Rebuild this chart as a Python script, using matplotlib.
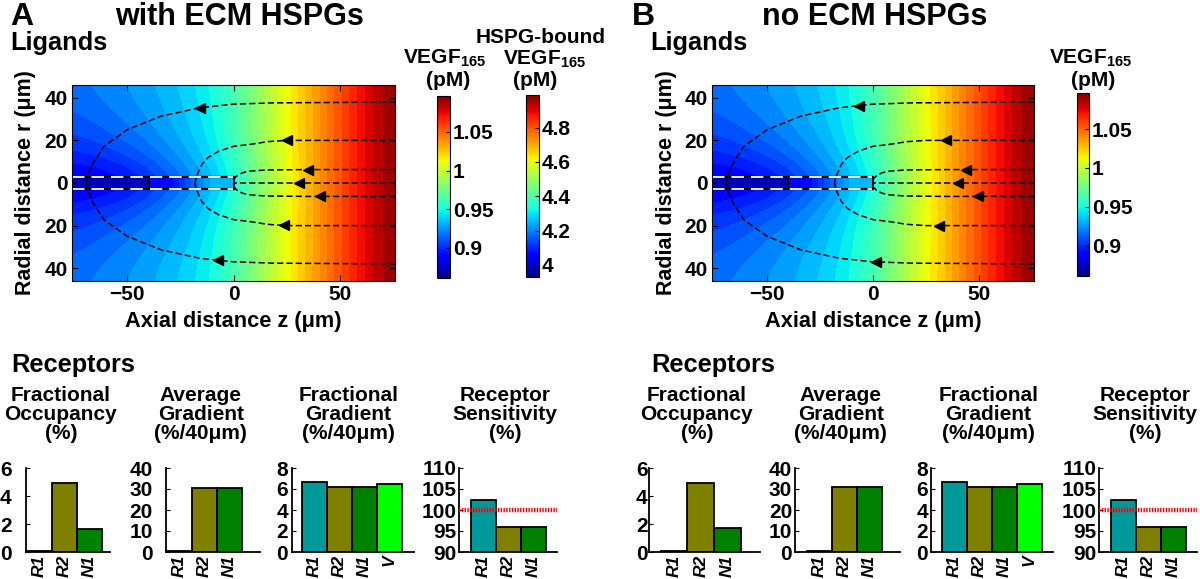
import numpy as np
import matplotlib.pyplot as plt
from matplotlib.cm import ScalarMappable
from matplotlib.colors import Normalize
from matplotlib.transforms import blended_transform_factory

plt.rcParams['font.family'] = ['Liberation Sans', 'DejaVu Sans']
plt.rcParams['font.weight'] = 'bold'
plt.rcParams['mathtext.fontset'] = 'custom'
plt.rcParams['mathtext.rm'] = 'Liberation Sans:bold'
plt.rcParams['mathtext.bf'] = 'Liberation Sans:bold'
plt.rcParams['lines.scale_dashes'] = False

# ---- ligand field, VEGF165 (pM) (rows = |r|) ----
z_nodes = [-76, -60.8, -45.6, -30.4, -15.2, 0, 15.2, 30.4, 45.6, 60.8, 76]
r_nodes = [0, 11.5, 23, 34.5, 46]
vegf_with = [
    [0.885, 0.887, 0.894, 0.908, 0.927, 0.948, 0.986, 1.019, 1.046, 1.072, 1.094],
    [0.899, 0.903, 0.910, 0.922, 0.936, 0.956, 0.991, 1.020, 1.046, 1.072, 1.094],
    [0.908, 0.913, 0.920, 0.929, 0.941, 0.960, 0.992, 1.020, 1.046, 1.072, 1.094],
    [0.914, 0.919, 0.925, 0.933, 0.943, 0.961, 0.992, 1.020, 1.046, 1.072, 1.094],
    [0.918, 0.922, 0.928, 0.935, 0.945, 0.962, 0.993, 1.020, 1.046, 1.072, 1.094],
]
vegf_without = [
    [0.885, 0.887, 0.894, 0.908, 0.927, 0.948, 0.986, 1.019, 1.046, 1.072, 1.094],
    [0.899, 0.903, 0.910, 0.922, 0.936, 0.956, 0.991, 1.020, 1.046, 1.072, 1.094],
    [0.908, 0.913, 0.920, 0.929, 0.941, 0.960, 0.992, 1.020, 1.046, 1.072, 1.094],
    [0.914, 0.919, 0.925, 0.933, 0.943, 0.961, 0.992, 1.020, 1.046, 1.072, 1.094],
    [0.918, 0.922, 0.928, 0.935, 0.945, 0.962, 0.993, 1.020, 1.046, 1.072, 1.094],
]
# sprout interior: stalk cell (uniform) and tip cell (base -> tip)
stalk_with, tip_with = 0.873, [0.894, 0.934]
stalk_without, tip_without = 0.873, [0.894, 0.934]
sprout_radius = 3
sprout_start = -76
cell_edges = [-40, 0]

vegf_range = (0.861, 1.0965)
hspg_range = (3.93, 4.99)

# ---- streamlines (upper half, mirrored below) ----
paths = {
    'outer': ([76, 18, 0, -16, -34, -50, -61, -66, -68.3, -69.3],
              [38, 37.6, 37, 35.3, 31.4, 25, 17.2, 9.4, 4.5, 0]),
    'middle': ([76, 25, 16, 7, 0, -7, -12, -15, -17.5, -18.2],
               [20, 20, 19.4, 18, 17.2, 14.9, 12, 8.6, 3, 0]),
    'inner': ([76, 35, 15, 7, 4, 1.5, 0.5],
              [6.3, 6.3, 6.1, 5.5, 4.7, 3.3, 2.2]),
    'axis': ([76, 0.5], [0, 0]),
}
arrows_with = {('outer', 1): -16, ('middle', 1): 25, ('inner', 1): 35, ('axis', 1): 31,
               ('inner', -1): 40.6, ('middle', -1): 23.6, ('outer', -1): -7.2}
arrows_without = {('outer', 1): -6.5, ('middle', 1): 34.6, ('inner', 1): 44, ('axis', 1): 40,
                  ('inner', -1): 49.4, ('middle', -1): 31.3, ('outer', -1): 1.5}

# ---- receptor bar charts ----
occ_labels = ['R1', 'R2', 'N1']
grad_labels = ['R1', 'R2', 'N1', 'V']
occupancy_with = [0.05, 4.9, 1.65]
avg_gradient_with = [0.4, 30.6, 30.6]
frac_gradient_with = [6.62, 6.2, 6.2, 6.47]
sensitivity_with = [102.5, 96.0, 96.0]
occupancy_without = [0.05, 4.95, 1.68]
avg_gradient_without = [0.4, 30.9, 30.9]
frac_gradient_without = [6.63, 6.22, 6.22, 6.48]
sensitivity_without = [102.5, 96.0, 96.0]
bar_colors = {'R1': '#009999', 'R2': '#808000', 'N1': '#008000', 'V': '#00ff00'}

W, H = 1200, 579
fig = plt.figure(figsize=(12, 5.79), dpi=100)
field_cmap = plt.get_cmap('jet', 40)


def px_axes(x0, y0, x1, y1):
    return fig.add_axes([x0 / W, 1 - y1 / H, (x1 - x0) / W, (y1 - y0) / H])


def ftext(x, y, s, **kw):
    return fig.text(x / W, 1 - y / H, s, **kw)


def draw_field(box, vals, stalk, tip, arrows):
    ax = px_axes(*box)
    norm = Normalize(*vegf_range)
    rows = np.array(vals)
    full = np.vstack([rows[::-1], rows[1:]])
    dz = z_nodes[1] - z_nodes[0]
    dr = r_nodes[1] - r_nodes[0]
    ax.imshow(full, cmap=field_cmap, norm=norm, origin='lower', aspect='auto',
              extent=[z_nodes[0] - dz / 2, z_nodes[-1] + dz / 2,
                      -r_nodes[-1] - dr / 2, r_nodes[-1] + dr / 2],
              interpolation='bicubic', interpolation_stage='data')
    ax.imshow([[stalk]], cmap=field_cmap, norm=norm, aspect='auto',
              extent=[sprout_start, cell_edges[0], -sprout_radius, sprout_radius])
    ax.imshow([tip], cmap=field_cmap, norm=norm, aspect='auto', origin='lower',
              extent=[cell_edges[0], cell_edges[1], -sprout_radius, sprout_radius],
              interpolation='bilinear', interpolation_stage='data')
    for s in (1, -1):
        ax.plot([sprout_start, cell_edges[1]], [s * sprout_radius] * 2, color='black', lw=1.6)
        ax.plot([sprout_start, cell_edges[1]], [s * sprout_radius] * 2, color='white',
                lw=1.3, dashes=(9, 5))
    for ze in cell_edges:
        ax.plot([ze, ze], [-sprout_radius, sprout_radius], color='black', lw=1.5)

    for (name, s), za in arrows.items():
        pz, pr = paths[name]
        ax.plot(pz, s * np.array(pr), color='black', lw=1.1, dashes=(4.5, 2.2))
        ra = s * np.interp(za, pz[::-1], pr[::-1])
        ax.plot([za], [ra], marker='<', color='black', ms=7)

    ax.set_xlim(-76, 76)
    ax.set_ylim(-46, 46)
    ax.set_xticks([-50, 0, 50])
    ax.set_yticks([-40, -20, 0, 20, 40])
    ax.set_yticklabels(['40', '20', '0', '20', '40'])
    ax.tick_params(direction='in', length=4, labelsize=15, top=True, right=True, pad=3)
    return ax


def colorbar(box, rng, ticks, labels):
    cax = px_axes(*box)
    sm = ScalarMappable(norm=Normalize(*rng), cmap='jet')
    cb = fig.colorbar(sm, cax=cax, ticks=ticks)
    cb.set_ticklabels(labels)
    cb.ax.tick_params(direction='in', length=3, labelsize=15, width=0.8, pad=2)
    cb.outline.set_linewidth(0.8)


def bar_chart(x0, x1, xlim, labels, vals, ylim, yticks, title, ref=None, ypad=2):
    ax = px_axes(x0, 468, x1, 552)
    x = np.arange(1, len(vals) + 1)
    ax.bar(x, vals, width=1, color=[bar_colors[l] for l in labels],
           edgecolor='black', linewidth=1.3, zorder=2)
    if ref is not None:
        ax.axhline(ref, color='red', lw=3.2, ls=(0, (1, 1)), zorder=3)
    ax.set_xlim(*xlim)
    ax.set_ylim(*ylim)
    ax.set_yticks(yticks)
    ax.set_xticks(x)
    ax.set_xticklabels(labels, rotation=90, fontstyle='italic', fontsize=12.5)
    ax.tick_params(axis='x', length=0, pad=2)
    ax.tick_params(axis='y', direction='in', length=3, labelsize=15, pad=ypad)
    for sp in ('top', 'right'):
        ax.spines[sp].set_visible(False)
    for sp in ('left', 'bottom'):
        ax.spines[sp].set_linewidth(1.3)
    tr = blended_transform_factory(ax.transData, fig.transFigure)
    ax.text(x.mean() - 0.15, 1 - 386 / H, title, transform=tr, ha='center', va='top',
            fontsize=15, linespacing=1.0)
    return ax


titles = ['Fractional\nOccupancy\n(%)', 'Average\nGradient\n(%/40μm)',
          'Fractional\nGradient\n(%/40μm)', 'Receptor\nSensitivity\n(%)']

panels = [
    dict(letter='A', letter_x=10, head='with ECM HSPGs', head_x=115, sub_x=10,
         field=vegf_with, stalk=stalk_with, tip=tip_with, arrows=arrows_with,
         heat=(72, 85, 395, 281),
         occ=occupancy_with, avg=avg_gradient_with, frac=frac_gradient_with,
         sens=sensitivity_with,
         bars=[(26, 110, (0.46, 3.82), 10.5), (166, 260, (0.46, 4.22), 9.5),
               (292, 414, (0.1, 4.98), 3), (459, 557, (0.02, 3.94), 2)]),
    dict(letter='B', letter_x=632, head='no ECM HSPGs', head_x=762, sub_x=650,
         field=vegf_without, stalk=stalk_without, tip=tip_without, arrows=arrows_without,
         heat=(712, 85, 1034, 281),
         occ=occupancy_without, avg=avg_gradient_without, frac=frac_gradient_without,
         sens=sensitivity_without,
         bars=[(649, 760, (0.06, 4.22), 1), (795, 900, (0.02, 4.22), 2),
               (931, 1053, (0.06, 4.94), 2), (1099, 1197, (0.02, 3.94), 2)]),
]

for p in panels:
    ftext(p['letter_x'], 25, p['letter'], fontsize=23, va='baseline')
    ftext(p['head_x'], 25, p['head'], fontsize=22, va='baseline')
    ftext(p['sub_x'], 50, 'Ligands', fontsize=18.3, va='baseline')
    ftext(p['sub_x'] + 1, 372, 'Receptors', fontsize=18.3, va='baseline')

    hx0, hy0, hx1, hy1 = p['heat']
    draw_field(p['heat'], p['field'], p['stalk'], p['tip'], p['arrows'])
    ftext(hx0 - 46, (hy0 + hy1) / 2, 'Radial distance r (μm)', fontsize=15.5,
          rotation=90, ha='center', va='center')
    ftext((hx0 + hx1) / 2, 327, 'Axial distance z (μm)', fontsize=15.7,
          ha='center', va='baseline')

    (b1, b2, b3, b4) = p['bars']
    bar_chart(b1[0], b1[1], b1[2], occ_labels, p['occ'], (0, 6), [0, 2, 4, 6],
              titles[0], ypad=b1[3])
    bar_chart(b2[0], b2[1], b2[2], occ_labels, p['avg'], (0, 40), [0, 10, 20, 30, 40],
              titles[1], ypad=b2[3])
    bar_chart(b3[0], b3[1], b3[2], grad_labels, p['frac'], (0, 8), [0, 2, 4, 6, 8],
              titles[2], ypad=b3[3])
    bar_chart(b4[0], b4[1], b4[2], occ_labels, p['sens'], (90, 110),
              [90, 95, 100, 105, 110], titles[3], ref=100, ypad=b4[3])

vegf_ticks = [0.9, 0.95, 1.0, 1.05]
vegf_ticklabels = ['0.9', '0.95', '1', '1.05']
hspg_ticks = [4.0, 4.2, 4.4, 4.6, 4.8]
hspg_ticklabels = ['4', '4.2', '4.4', '4.6', '4.8']

# panel A colour bars
colorbar((437, 96, 450, 278), vegf_range, vegf_ticks, vegf_ticklabels)
colorbar((526, 95, 539, 277), hspg_range, hspg_ticks, hspg_ticklabels)
ftext(445, 63, 'VEGF$_{165}$', fontsize=15, ha='center', va='baseline')
ftext(448, 86, '(pM)', fontsize=15, ha='center', va='baseline')
ftext(541, 43, 'HSPG-bound', fontsize=15, ha='center', va='baseline')
ftext(545, 64, 'VEGF$_{165}$', fontsize=15, ha='center', va='baseline')
ftext(535, 86, '(pM)', fontsize=15, ha='center', va='baseline')

# panel B colour bar
colorbar((1077, 93, 1089, 276), vegf_range, vegf_ticks, vegf_ticklabels)
ftext(1091, 63, 'VEGF$_{165}$', fontsize=15, ha='center', va='baseline')
ftext(1093, 86, '(pM)', fontsize=15, ha='center', va='baseline')

fig.savefig('out.png', dpi=100)
